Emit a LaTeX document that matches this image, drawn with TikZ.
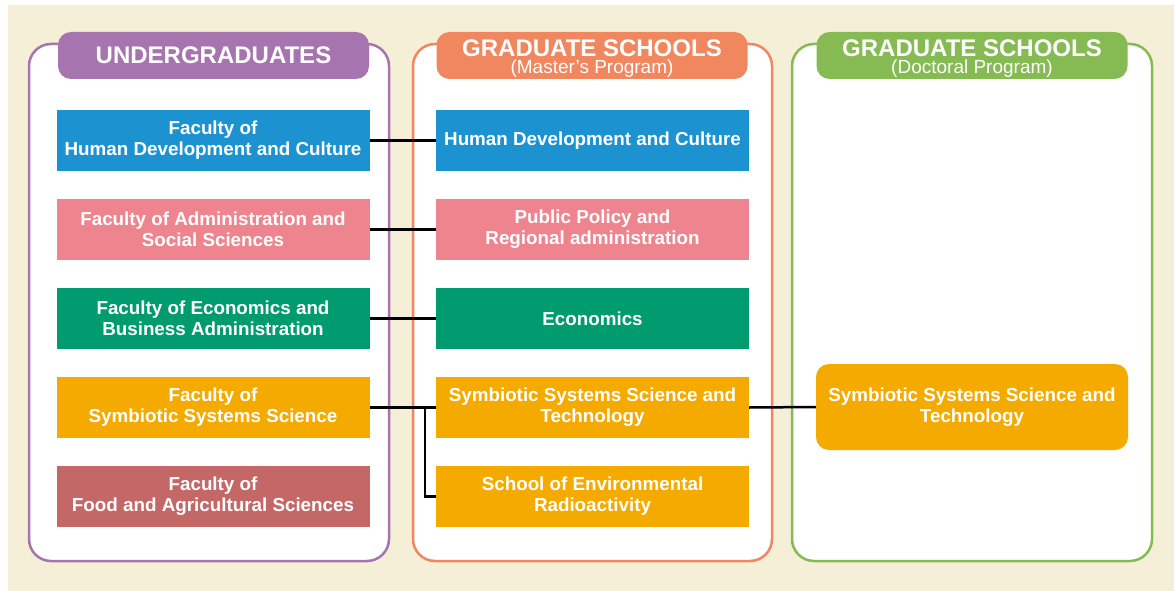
\documentclass[tikz,border=0pt]{standalone}
\usepackage{fontspec}
\setmainfont{Liberation Sans}
\definecolor{bgbeige}{HTML}{F5EFD8}
\definecolor{cpurple}{HTML}{A675AF}
\definecolor{corange}{HTML}{F0875F}
\definecolor{cgreen}{HTML}{86BA52}
\definecolor{bblue}{HTML}{1C93D0}
\definecolor{bpink}{HTML}{EE858E}
\definecolor{bgreen}{HTML}{009B6E}
\definecolor{borange}{HTML}{F5AA00}
\definecolor{bred}{HTML}{C36866}
\begin{document}
\begin{tikzpicture}[x=1pt,y=-1pt,
  panel/.style={draw=#1, line width=2.5pt, fill=white, rounded corners=22pt},
  header/.style={fill=#1, rounded corners=13pt, minimum width=311pt, minimum height=47pt, inner sep=0pt, text=white, align=center},
  htitle/.style={anchor=base, inner sep=0pt, text=white, text depth=0pt, font=\fontsize{24}{24}\selectfont\bfseries},
  hsub/.style={anchor=base, inner sep=0pt, text=white, text height=12pt, text depth=0pt, font=\fontsize{19}{19}\selectfont},
  unit/.style={fill=#1, minimum width=313pt, minimum height=61pt, inner sep=0pt, text=white, align=center,
    font=\fontsize{18.8}{21}\selectfont\bfseries},
  link/.style={draw=black, line width=2.5pt}
]
\useasboundingbox (0,0) rectangle (1174,591);
\fill[white] (0,0) rectangle (1174,591);
\fill[bgbeige] (8,5) rectangle (1174,591);
% panels
\draw[panel=cpurple] (29,44) rectangle (389,561);
\draw[panel=corange] (413,44) rectangle (772,561);
\draw[panel=cgreen] (792,44) rectangle (1152,561);
% headers
\node[header=cpurple] (h1) at (213.5,55.5) {\fontsize{24}{24}\selectfont\bfseries UNDERGRADUATES};
\node[header=corange] (h2) at (592,55.5) {};
\node[htitle] (h2t) at (592,57) {GRADUATE SCHOOLS};
\node[hsub] (h2s) at (592,74) {(Master’s Program)};
\node[header=cgreen] (h3) at (972,55.5) {};
\node[htitle] (h3t) at (972,57) {GRADUATE SCHOOLS};
\node[hsub] (h3s) at (972,74) {(Doctoral Program)};
% undergraduate units
\node[unit=bblue] (u1) at (213,140.5) {Faculty of\\Human Development and Culture};
\node[unit=bpink] (u2) at (213,229.5) {Faculty of Administration and\\Social Sciences};
\node[unit=bgreen] (u3) at (213,318.5) {Faculty of Economics and\\Business Administration};
\node[unit=borange] (u4) at (213,407.5) {Faculty of\\Symbiotic Systems Science};
\node[unit=bred] (u5) at (213,496.5) {Faculty of\\Food and Agricultural Sciences};
% master units
\node[unit=bblue] (m1) at (592.5,140.5) {Human Development and Culture};
\node[unit=bpink] (m2) at (592.5,229.5) {Public Policy and\\Regional administration};
\node[unit=bgreen] (m3) at (592.5,318.5) {Economics};
\node[unit=borange] (m4) at (592.5,407.5) {Symbiotic Systems Science and\\Technology};
\node[unit=borange] (m5) at (592.5,496.5) {School of Environmental\\Radioactivity};
% doctoral unit
\node[unit=borange, rounded corners=13pt, minimum width=312pt, minimum height=86pt] (d1) at (972,407) {Symbiotic Systems Science and\\Technology};
% connectors
\draw[link] (u1.east) -- (m1.west);
\draw[link] (u2.east) -- (m2.west);
\draw[link] (u3.east) -- (m3.west);
\draw[link] (u4.east) -- (m4.west);
\coordinate (br) at (425,407.5);
\draw[link] (br) |- (m5.west);
\draw[link] (m4.east) -- (d1.west);
\end{tikzpicture}
\end{document}
